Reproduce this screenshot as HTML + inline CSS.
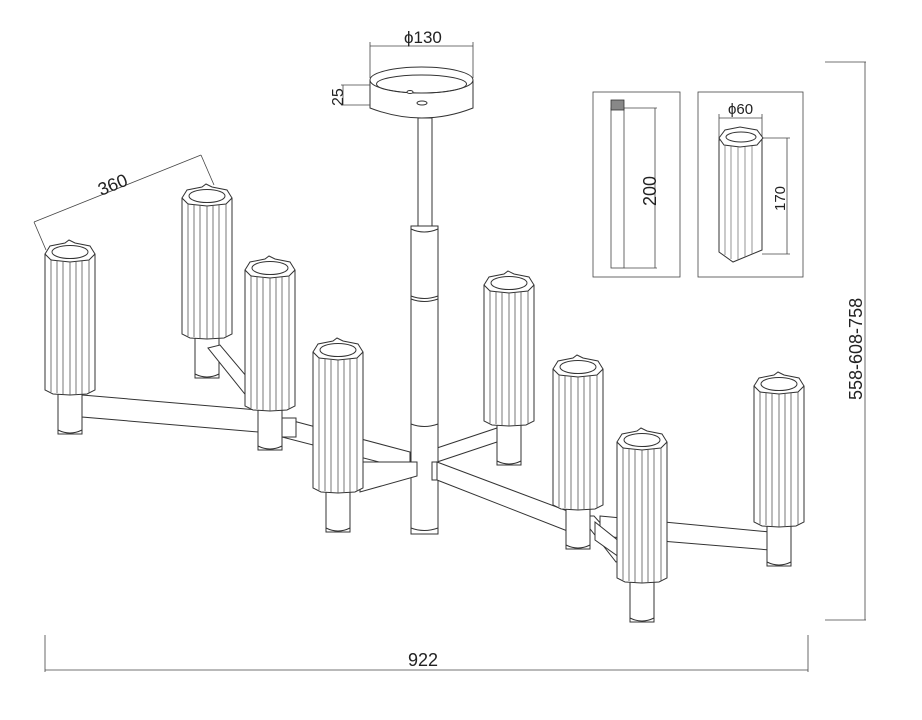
<!DOCTYPE html>
<html><head><meta charset="utf-8"><style>
html,body{margin:0;padding:0;background:#fff;}
svg{display:block;}
text{font-family:"Liberation Sans",sans-serif;fill:#222;}
</style></head><body>
<svg width="922" height="720" viewBox="0 0 922 720" xmlns="http://www.w3.org/2000/svg">
<defs>
<g id="lamp" fill="#fff" stroke="#333" stroke-width="1">
  <rect x="13" y="148" width="24" height="44"/>
  <path d="M13,188 Q25,194 37,188" fill="none"/>
  <path d="M0,12 L0,148 L8,152 L25,153 L42,152 L50,148 L50,12 Z"/>
  <path d="M0,12 L5,4 L20,1 L24,-2 L30,1 L45,4 L50,12 L44,18 L25,20 L6,18 Z"/>
  <ellipse cx="25" cy="10" rx="18" ry="6.5"/>
  <g fill="none" stroke="#555" stroke-width="0.8">
    <line x1="6" y1="17" x2="6" y2="150"/><line x1="12" y1="18" x2="12" y2="151"/>
    <line x1="18" y1="19" x2="18" y2="152"/><line x1="25" y1="20" x2="25" y2="153"/>
    <line x1="31" y1="20" x2="31" y2="153"/><line x1="37" y1="19" x2="37" y2="152"/>
    <line x1="44" y1="18" x2="44" y2="151"/>
  </g>
</g>
</defs>
<g stroke="#333" stroke-width="1" fill="#fff">
<use href="#lamp" x="182" y="186"/>
<use href="#lamp" x="484" y="273"/>
<polygon points="208,348 220,345 268,402 256,408"/>
<polygon points="82,395 258,410 258,432 82,417"/>
<polygon points="437,448 497,428 497,442 437,462"/>
<polygon points="580,516 594,516 630,556 616,562"/>
<polygon points="600,516 770,532 770,550 600,536"/>
<path d="M370,80 L370,108 Q422,128 473,108 L473,80" />
<ellipse cx="421.5" cy="80" rx="51.5" ry="13"/>
<ellipse cx="421.5" cy="84" rx="45" ry="9" fill="none"/>
<ellipse cx="410" cy="92" rx="3" ry="1.5"/>
<ellipse cx="422" cy="103" rx="5" ry="2"/>
<rect x="418" y="118" width="14" height="110"/>
<rect x="411" y="226" width="27" height="308"/>
<path d="M411,229 Q424,235 438,229" fill="none"/>
<path d="M411,296 Q424,301 438,296 M411,299 Q424,304 438,299" fill="none"/>
<path d="M411,424 Q424,429 438,424" fill="none"/>
<path d="M411,528 Q424,533 438,528" fill="none"/>
<use href="#lamp" x="45" y="242"/>
<use href="#lamp" x="245" y="258"/>
<polygon points="282,418 410,452 410,470 282,437"/>
<polygon points="282,418 296,418 296,437 282,437"/>
<polygon points="360,462 417,462 417,476 360,492"/>
<polygon points="437,462 570,512 570,532 437,480"/>
<polygon points="432,462 437,462 437,480 432,480"/>
<use href="#lamp" x="313" y="340"/>
<use href="#lamp" x="553" y="357"/>
<use href="#lamp" x="754" y="374"/>
<polygon points="595,522 640,558 640,572 595,540"/>
<use href="#lamp" x="617" y="430"/>
</g>
<g stroke="#444" stroke-width="0.8" fill="none">
<line x1="370" y1="46" x2="473" y2="46"/><line x1="370" y1="42" x2="370" y2="78"/><line x1="473" y1="42" x2="473" y2="78"/>
<line x1="341" y1="85" x2="370" y2="85"/><line x1="341" y1="105" x2="370" y2="105"/><line x1="343" y1="85" x2="343" y2="105"/>
<line x1="34" y1="222" x2="201" y2="155"/><line x1="34" y1="222" x2="46" y2="250"/><line x1="201" y1="155" x2="214" y2="185"/>
<line x1="45" y1="635" x2="45" y2="672"/><line x1="808" y1="635" x2="808" y2="672"/><line x1="45" y1="670" x2="808" y2="670"/>
<line x1="825" y1="62" x2="866" y2="62"/><line x1="825" y1="620" x2="866" y2="620"/><line x1="865" y1="62" x2="865" y2="620"/>
<rect x="593" y="92" width="87" height="185"/>
<rect x="698" y="92" width="105" height="185"/>
<rect x="611" y="108" width="13" height="160" fill="#fff"/>
<line x1="624" y1="108" x2="657" y2="108"/><line x1="624" y1="268" x2="657" y2="268"/><line x1="655" y1="108" x2="655" y2="268"/>
<line x1="719" y1="118" x2="762" y2="118"/><line x1="719" y1="114" x2="719" y2="140"/><line x1="762" y1="114" x2="762" y2="140"/>
<line x1="762" y1="138" x2="790" y2="138"/><line x1="762" y1="254" x2="790" y2="254"/><line x1="787" y1="138" x2="787" y2="254"/>
</g>
<g stroke="#333" stroke-width="0.8" fill="#888">
<rect x="611" y="100" width="13" height="10"/>
</g>
<g fill="#fff" stroke="#333" stroke-width="1">
<path d="M719,140 L719,252 L733,262 L762,250 L762,140 Z"/>
<path d="M719,138 L725,130 L740,127 L757,130 L763,138 L757,145 L740,147 L724,145 Z"/>
<ellipse cx="741" cy="137" rx="15" ry="5"/>
<g stroke="#666" stroke-width="0.7"><line x1="725" y1="145" x2="725" y2="255"/><line x1="731" y1="146" x2="731" y2="259"/><line x1="738" y1="147" x2="738" y2="260"/><line x1="745" y1="147" x2="745" y2="257"/><line x1="752" y1="146" x2="752" y2="254"/></g>
</g>
<text x="404" y="43" font-size="17">ϕ130</text>
<text transform="translate(343,106) rotate(-90)" font-size="16">25</text>
<text transform="translate(101,196) rotate(-22)" font-size="18">360</text>
<text x="408" y="666" font-size="18">922</text>
<text transform="translate(862,400) rotate(-90)" font-size="18">558-608-758</text>
<text transform="translate(656,206) rotate(-90)" font-size="18">200</text>
<text x="728" y="114" font-size="15">ϕ60</text>
<text transform="translate(785,211) rotate(-90)" font-size="15">170</text>
</svg>
</body></html>
